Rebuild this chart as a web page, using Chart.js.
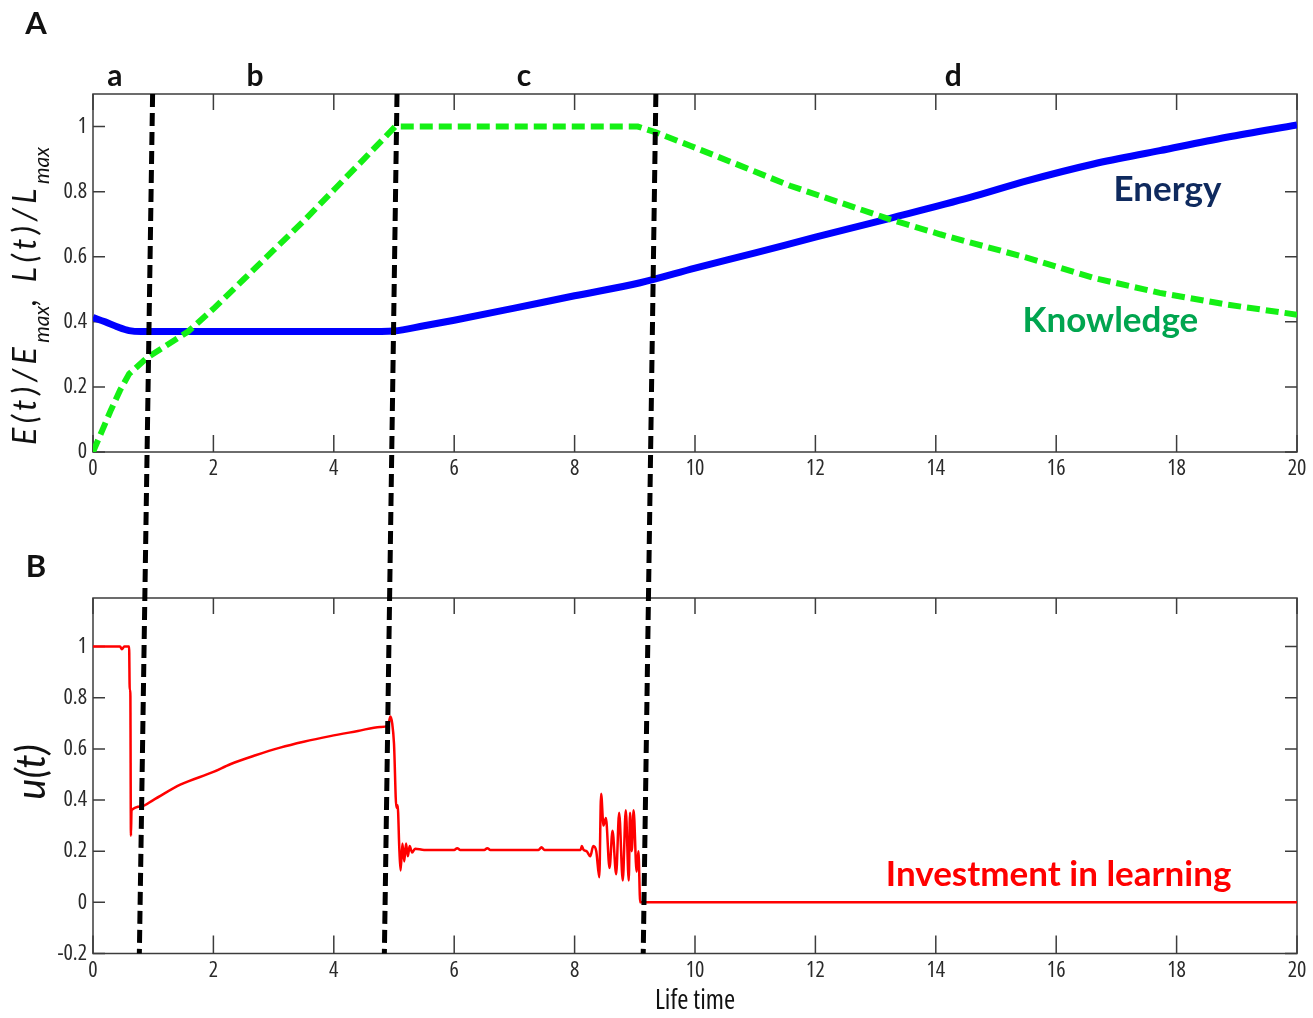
<!DOCTYPE html>
<html>
<head>
<meta charset="utf-8">
<script src="https://cdn.jsdelivr.net/npm/chart.js@4.4.1/dist/chart.umd.min.js"></script>
<style>
    html, body { margin: 0; padding: 0; background: #fff; }
    #wrap { position: relative; width: 1313px; height: 1018px; }
    canvas { position: absolute; left: 0; }
    #chartA { top: 0; }
    #chartB { top: 500px; }
    #overlay { top: 0; pointer-events: none; }
</style>
</head>
<body>
<div id="wrap">
    <canvas id="chartA" width="1313" height="500"></canvas>
    <canvas id="chartB" width="1313" height="518"></canvas>
    <canvas id="overlay" width="1313" height="1018"></canvas>
</div>
<script>
// ---- data ----
// panel A : energy E(t)/Emax
const energyT = [0, 0.2, 0.4, 0.6, 0.8, 1.5, 2.5, 3.5, 4.5, 5.0, 5.5, 6, 7, 8, 9.09, 10, 11, 12, 13.24, 14.57, 15.51, 16.62, 17.72, 18.83, 20]
const energyV = [0.413, 0.4, 0.385, 0.373, 0.37, 0.37, 0.37, 0.37, 0.37, 0.372, 0.388, 0.405, 0.442, 0.48, 0.52, 0.565, 0.612, 0.66, 0.718, 0.782, 0.833, 0.885, 0.926, 0.967, 1.005]

// panel A : knowledge L(t)/Lmax
const knowT = [0, 0.15, 0.3, 0.45, 0.6, 0.9, 1.2, 1.58, 2.0, 2.5, 3.0, 3.5, 4.0, 4.5, 5.02, 9.05, 9.34, 9.92, 10.75, 11.58, 12.4, 13.24, 14.07, 15.51, 16.62, 17.72, 18.83, 20]
const knowV = [0, 0.065, 0.13, 0.19, 0.24, 0.29, 0.325, 0.37, 0.44, 0.53, 0.62, 0.71, 0.805, 0.9, 1.0, 1.0, 0.983, 0.941, 0.88, 0.818, 0.767, 0.715, 0.669, 0.597, 0.535, 0.489, 0.453, 0.422]

// panel B : investment in learning u(t)
const uT = [0, 0.45, 0.48, 0.52, 0.6, 0.61, 0.62, 0.63, 0.64, 0.8, 1.0, 1.45, 2.0, 2.28, 2.7, 3.11, 3.5, 3.94, 4.4, 4.77,
    4.9, 4.94, 4.97, 5.0, 5.04, 5.06, 5.09, 5.11, 5.14, 5.17, 5.2, 5.23, 5.26, 5.3, 5.35, 5.5, 6.0, 6.05, 6.1, 6.5,
    6.55, 6.6, 7.4, 7.45, 7.5, 8.1, 8.12, 8.15, 8.2, 8.26, 8.31, 8.36, 8.41, 8.44, 8.48, 8.52, 8.58, 8.63, 8.69, 8.74,
    8.8, 8.85, 8.9, 8.92, 8.95, 8.98, 9.03, 9.06, 9.09, 9.12, 20]
const uV = [1.0, 1.0, 0.99, 1.0, 1.0, 0.83, 0.83, 0.26, 0.36, 0.375, 0.4, 0.46, 0.51, 0.54, 0.575, 0.605, 0.628, 0.65, 0.67, 0.686,
    0.69, 0.727, 0.7, 0.62, 0.37, 0.38, 0.2, 0.125, 0.23, 0.16, 0.23, 0.18, 0.22, 0.195, 0.21, 0.205, 0.205, 0.212, 0.205, 0.205,
    0.212, 0.205, 0.205, 0.215, 0.205, 0.205, 0.22, 0.205, 0.2, 0.18, 0.22, 0.2, 0.098, 0.425, 0.3, 0.33, 0.134, 0.28, 0.11, 0.35,
    0.085, 0.36, 0.085, 0.35, 0.2, 0.36, 0.12, 0.2, 0, 0, 0]

// phase boundaries (dashed black lines), time at top of A and at bottom of B
const boundaryTopT = [0.99, 5.05, 9.35]
const boundaryBottomT = [0.77, 4.84, 9.14]

// phase names and axis ticks
const phaseNames = ["a", "b", "c", "d"]
const phaseNameT = [0.365, 2.69, 7.16, 14.29]
const xTickStep = 2
const yTickStep = 0.2

// ---- helpers ----
// "condensed" goes into the font string before the size (font-stretch)
const narrow = "'Open Sans', 'Noto Sans', sans-serif"
const tickFont = { family: narrow, weight: "condensed", size: 22 }
var chartA, chartB

function toPoints(t, v) {
    return t.map((x, i) => ({ x: x, y: v[i] }))
}

function fmtTick(v) {
    return String(Math.round(v * 10) / 10)
}

/*********************************************
 * frame with inward ticks (under the data),
 * then labels, panel letter and rotated
 * y title with subscripts (over the data)
 *********************************************/
const panelDecor = {
    id: "panelDecor",
    beforeDatasetsDraw(chart, args, o) {
        const { ctx, chartArea: a } = chart
        const xs = chart.scales.x, ys = chart.scales.y
        ctx.save()
        ctx.strokeStyle = "#3c3c3c"
        ctx.lineWidth = 1.5
        ctx.strokeRect(a.left, a.top, a.right - a.left, a.bottom - a.top)
        ctx.beginPath()
        xs.ticks.forEach(t => {
            const px = xs.getPixelForValue(t.value)
            ctx.moveTo(px, a.bottom); ctx.lineTo(px, a.bottom - o.xTick)
            ctx.moveTo(px, a.top); ctx.lineTo(px, a.top + o.xTickTop)
        })
        ys.ticks.forEach(t => {
            const py = ys.getPixelForValue(t.value)
            ctx.moveTo(a.left, py); ctx.lineTo(a.left + o.yTick, py)
            ctx.moveTo(a.right, py); ctx.lineTo(a.right - o.yTick, py)
        })
        ctx.stroke()
        ctx.restore()
    },
    afterDraw(chart, args, o) {
        const { ctx } = chart
        const xs = chart.scales.x, ys = chart.scales.y
        ctx.save()

        // text labels placed with the scales
        ctx.textAlign = "center"
        ctx.textBaseline = "alphabetic"
        ;(o.labels || []).forEach(l => {
            ctx.font = l.font
            ctx.fillStyle = l.color
            ctx.fillText(l.text, xs.getPixelForValue(l.x), ys.getPixelForValue(l.y))
        })

        // panel letter
        ctx.font = "bold 31px Lato"
        ctx.fillStyle = "#111"
        ctx.textBaseline = "middle"
        ctx.fillText(o.letter.text, o.letter.x, o.letter.y)

        // y title, rotated, drawn piece by piece
        const yt = o.yTitle
        ctx.translate(yt.x, yt.y)
        ctx.rotate(-Math.PI / 2)
        ctx.textAlign = yt.align || "left"
        ctx.textBaseline = "alphabetic"
        ctx.fillStyle = "#111"
        let natural = 0, nChars = 0
        yt.parts.forEach(p => {
            ctx.font = p.sub ? yt.subFont : yt.font
            natural += ctx.measureText(p.t).width
            if (!p.sub) nChars += p.t.length
        })
        const spacing = yt.length ? Math.max(0, (yt.length - natural) / nChars) : 0
        let u = 0
        yt.parts.forEach(p => {
            ctx.font = p.sub ? yt.subFont : yt.font
            const sp = p.sub ? 0 : spacing
            ctx.letterSpacing = sp + "px"
            ctx.fillText(p.t, u, p.sub ? yt.subShift : 0)
            ctx.letterSpacing = "0px"
            u += ctx.measureText(p.t).width + sp * p.t.length
        })
        ctx.restore()
    }
}

function xScale(height, title) {
    return {
        type: "linear", min: 0, max: 20,
        ticks: { stepSize: xTickStep, font: tickFont, color: "#2a2a2a", padding: 4, maxRotation: 0, autoSkip: false, callback: fmtTick },
        grid: { display: false, drawTicks: false },
        border: { display: false },
        title: title,
        afterFit: (s) => { s.height = height }
    }
}

function yScale(min, max) {
    return {
        min: min, max: max,
        ticks: { stepSize: yTickStep, includeBounds: false, font: tickFont, color: "#2a2a2a", padding: 6, callback: fmtTick },
        grid: { display: false, drawTicks: false },
        border: { display: false },
        afterFit: (s) => { s.width = 93 }
    }
}

const labelFont = "bold 35px Lato"

function buildCharts() {
    chartA = new Chart("chartA", {
        type: "line",
        data: {
            datasets: [{
                label: "Knowledge",
                data: toPoints(knowT, knowV),
                borderColor: "#14f014",
                borderWidth: 6,
                borderDash: [13, 6],
                tension: 0,
                pointRadius: 0
            }, {
                label: "Energy",
                data: toPoints(energyT, energyV),
                borderColor: "#0000ff",
                borderWidth: 7,
                cubicInterpolationMode: "monotone",
                pointRadius: 0
            }]
        },
        options: {
            responsive: false,
            animation: false,
            layout: { padding: { top: 94, right: 16, left: 0, bottom: 0 } },
            scales: { x: xScale(48), y: yScale(0, 1.1) },
            plugins: {
                legend: { display: false },
                tooltip: { enabled: false },
                panelDecor: {
                    xTick: 17, xTickTop: 16, yTick: 12,
                    labels: [
                        { text: "Energy", x: 17.85, y: 0.771, color: "#0f2a5e", font: labelFont },
                        { text: "Knowledge", x: 16.9, y: 0.369, color: "#00a54f", font: labelFont }
                    ].concat(phaseNames.map((n, i) => ({ text: n, x: phaseNameT[i], y: 1.125, color: "#111", font: "bold 30px Lato" }))),
                    letter: { text: "A", x: 36, y: 24 },
                    yTitle: {
                        x: 36, y: 445, length: 298,
                        font: "italic 32px Lato", subFont: "italic 21px Lato", subShift: 13,
                        parts: [{ t: "E(t)/E" }, { t: "max", sub: true }, { t: ", L(t)/L" }, { t: "max", sub: true }]
                    }
                }
            }
        },
        plugins: [panelDecor]
    })

    chartB = new Chart("chartB", {
        type: "line",
        data: {
            datasets: [{
                label: "Investment in learning",
                data: toPoints(uT, uV),
                borderColor: "#ff0000",
                borderWidth: 2.5,
                cubicInterpolationMode: "monotone",
                pointRadius: 0
            }]
        },
        options: {
            responsive: false,
            animation: false,
            layout: { padding: { top: 98, right: 16, left: 0, bottom: 0 } },
            scales: {
                x: xScale(64.5, { display: true, text: "Life time", color: "#111", font: { family: narrow, weight: "condensed", size: 27 }, padding: { top: 0, bottom: 0 } }),
                y: yScale(-0.2, 1.19)
            },
            plugins: {
                legend: { display: false },
                tooltip: { enabled: false },
                panelDecor: {
                    xTick: 18, xTickTop: 16, yTick: 12,
                    labels: [
                        { text: "Investment in learning", x: 16.04, y: 0.065, color: "#ff0000", font: labelFont }
                    ],
                    letter: { text: "B", x: 36, y: 67 },
                    yTitle: {
                        x: 45, y: 272, align: "center",
                        font: "italic 40px Lato", subFont: "italic 20px Lato", subShift: 0,
                        parts: [{ t: "u(t)" }]
                    }
                }
            }
        },
        plugins: [panelDecor]
    })

    drawBoundaries()
}

// dashed phase boundaries running across both panels
function drawBoundaries() {
    const ov = document.querySelector("#overlay")
    const ctx = ov.getContext("2d")
    const topA = chartA.canvas.offsetTop, topB = chartB.canvas.offsetTop
    ctx.clearRect(0, 0, ov.width, ov.height)
    ctx.strokeStyle = "#000"
    ctx.lineWidth = 5
    ctx.setLineDash([13, 6])
    boundaryTopT.forEach((t, i) => {
        const x0 = chartA.scales.x.getPixelForValue(t)
        const y0 = topA + chartA.chartArea.top
        const x1 = chartB.scales.x.getPixelForValue(boundaryBottomT[i])
        const y1 = topB + chartB.chartArea.bottom
        ctx.beginPath()
        ctx.moveTo(x0, y0)
        ctx.lineTo(x1, y1)
        ctx.stroke()
    })
}

buildCharts()
</script>
</body>
</html>
